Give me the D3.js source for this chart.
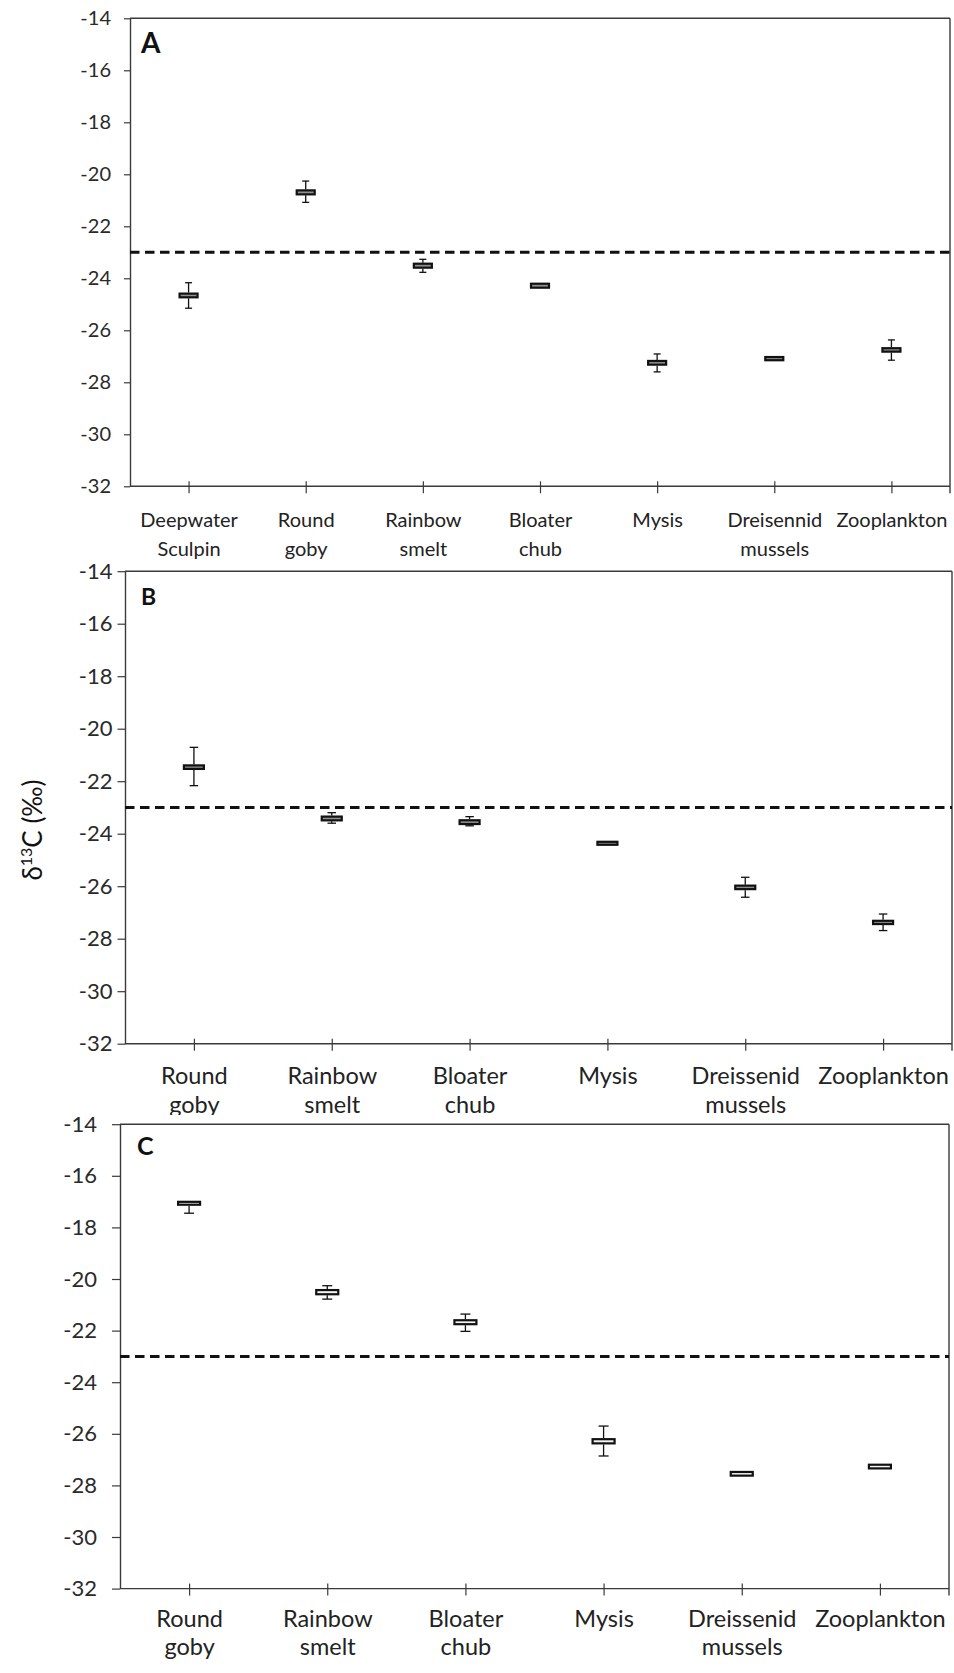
<!DOCTYPE html>
<html>
<head>
<meta charset="utf-8">
<script src="https://cdn.jsdelivr.net/npm/d3@7"></script>
<style>
  html, body { margin: 0; padding: 0; background: #fff; }
  svg { display: block; }
  text { font-family: Lato, Calibri, "Open Sans", sans-serif; }
</style>
</head>
<body>
<svg id="chart" width="954" height="1673"></svg>
<script>
// ---------- DATA ----------
const categoriesA = ["Deepwater\nSculpin", "Round\ngoby", "Rainbow\nsmelt", "Bloater\nchub", "Mysis", "Dreisennid\nmussels", "Zooplankton"];
const whiskerHighA = [-24.17, -20.26, -23.27, -24.17, -26.91, -26.99, -26.37];
const boxTopA      = [-24.55, -20.58, -23.40, -24.17, -27.14, -26.99, -26.65];
const boxBottomA   = [-24.77, -20.81, -23.63, -24.40, -27.36, -27.19, -26.86];
const whiskerLowA  = [-25.15, -21.08, -23.77, -24.40, -27.60, -27.19, -27.15];

const categoriesB = ["Round\ngoby", "Rainbow\nsmelt", "Bloater\nchub", "Mysis", "Dreissenid\nmussels", "Zooplankton"];
const whiskerHighB = [-20.71, -23.20, -23.35, -24.27, -25.66, -27.06];
const boxTopB      = [-21.36, -23.31, -23.45, -24.27, -25.94, -27.28];
const boxBottomB   = [-21.57, -23.53, -23.67, -24.46, -26.15, -27.48];
const whiskerLowB  = [-22.17, -23.60, -23.70, -24.46, -26.42, -27.69];

const categoriesC = ["Round\ngoby", "Rainbow\nsmelt", "Bloater\nchub", "Mysis", "Dreissenid\nmussels", "Zooplankton"];
const whiskerHighC = [-16.97, -20.26, -21.36, -25.70, -27.44, -27.16];
const boxTopC      = [-16.97, -20.39, -21.56, -26.17, -27.44, -27.16];
const boxBottomC   = [-17.16, -20.63, -21.79, -26.41, -27.66, -27.38];
const whiskerLowC  = [-17.45, -20.78, -22.03, -26.86, -27.66, -27.38];

const yTicks = [-14, -16, -18, -20, -22, -24, -26, -28, -30, -32];
const yDomain = [-32, -14];
const referenceLine = -23;
const panelLabels = ["A", "B", "C"];
const yTitle = "C (‰)";

// ---------- LAYOUT ----------
const panels = [
  { label: panelLabels[0], cats: categoriesA, wh: whiskerHighA, bt: boxTopA, bb: boxBottomA, wl: whiskerLowA,
    left: 130, right: 950, top: 18.3, bottom: 486.3, font: 20, tickFont: 20, tickLen: 6, tickPad: 13,
    labelSize: 28, labelX: 141, labelY: 53, boxW: 20, capW: 7, boxFill: "#8f8f8f",
    line1: 40.5, lineGap: 29.3, clipBottom: null },
  { label: panelLabels[1], cats: categoriesB, wh: whiskerHighB, bt: boxTopB, bb: boxBottomB, wl: whiskerLowB,
    left: 125, right: 952, top: 571.2, bottom: 1043.7, font: 23.5, tickFont: 22, tickLen: 7.5, tickPad: 5,
    labelSize: 23, labelX: 141, labelY: 605, boxW: 22, capW: 8.5, boxFill: "#8f8f8f",
    line1: 40.5, lineGap: 29.3, clipBottom: 1115 },
  { label: panelLabels[2], cats: categoriesC, wh: whiskerHighC, bt: boxTopC, bb: boxBottomC, wl: whiskerLowC,
    left: 120, right: 949, top: 1124.2, bottom: 1588.6, font: 23.5, tickFont: 22, tickLen: 8, tickPad: 15,
    labelSize: 25, labelX: 137, labelY: 1155, boxW: 24, capW: 10, boxFill: "#f4f4f4",
    line1: 38, lineGap: 28.5, clipBottom: null }
];

const svg = d3.select("#chart");
const defs = svg.append("defs");
const axisColor = "#3a3a3a";

panels.forEach((p, pi) => {
  let g = svg.append("g");
  if (p.clipBottom) {
    defs.append("clipPath").attr("id", "clip" + pi)
      .append("rect").attr("x", 0).attr("y", 0).attr("width", 954).attr("height", p.clipBottom);
    g.attr("clip-path", "url(#clip" + pi + ")");
  }
  const y = d3.scaleLinear().domain(yDomain).range([p.bottom, p.top]);
  const x = d3.scalePoint().domain(p.cats).range([p.left, p.right]).padding(0.5);

  // frame (top + right)
  g.append("line").attr("x1", p.left).attr("x2", p.right).attr("y1", p.top).attr("y2", p.top)
    .attr("stroke", axisColor).attr("stroke-width", 1.4);
  g.append("line").attr("x1", p.right).attr("x2", p.right).attr("y1", p.top).attr("y2", p.bottom + 7)
    .attr("stroke", axisColor).attr("stroke-width", 1.4);

  // y axis
  const yAxis = d3.axisLeft(y).tickValues(yTicks).tickFormat(d3.format("d"))
    .tickSizeInner(p.tickLen).tickSizeOuter(0).tickPadding(p.tickPad);
  const ya = g.append("g").attr("transform", `translate(${p.left},0)`).call(yAxis);
  ya.select(".domain").attr("stroke", axisColor).attr("stroke-width", 1.4);
  ya.selectAll(".tick line").attr("stroke", axisColor).attr("stroke-width", 1.2);
  ya.selectAll(".tick text").attr("fill", "#2a2a2a").style("font-size", p.tickFont + "px")
    .style("font-family", "Lato, Calibri, sans-serif")
    .text(d => d3.format("d")(d).replace("−", "-"));

  // x axis
  const xAxis = d3.axisBottom(x).tickSizeInner(7).tickSizeOuter(0).tickFormat("");
  const xa = g.append("g").attr("transform", `translate(0,${p.bottom})`).call(xAxis);
  xa.select(".domain").attr("stroke", axisColor).attr("stroke-width", 1.4)
    .attr("d", `M${p.left},0H${p.right}`);
  xa.selectAll(".tick line").attr("y1", -5).attr("y2", 7).attr("stroke", axisColor).attr("stroke-width", 1.2);
  xa.selectAll(".tick text").remove();
  xa.selectAll(".tick").each(function(d) {
    const t = d3.select(this).append("text")
      .attr("text-anchor", "middle").attr("fill", "#222")
      .style("font-size", p.font + "px")
      .style("font-family", "Lato, Calibri, sans-serif");
    d.split("\n").forEach((ln, i) => {
      t.append("tspan").attr("x", 0).attr("y", p.line1 + i * p.lineGap).text(ln);
    });
  });

  // reference dashed line
  g.append("line").attr("x1", p.left).attr("x2", p.right)
    .attr("y1", y(referenceLine)).attr("y2", y(referenceLine))
    .attr("stroke", "#111").attr("stroke-width", 3).attr("stroke-dasharray", "9.5,5.5");

  // boxes
  const data = p.cats.map((c, i) => ({ c, wh: p.wh[i], bt: p.bt[i], bb: p.bb[i], wl: p.wl[i] }));
  const bx = g.append("g").selectAll("g").data(data).join("g");
  bx.each(function(d) {
    const s = d3.select(this);
    const cx = x(d.c);
    if (d.wh > d.bt) {
      s.append("line").attr("x1", cx).attr("x2", cx).attr("y1", y(d.wh)).attr("y2", y(d.bt))
        .attr("stroke", "#111").attr("stroke-width", 1.3);
      s.append("line").attr("x1", cx - p.capW / 2).attr("x2", cx + p.capW / 2).attr("y1", y(d.wh)).attr("y2", y(d.wh))
        .attr("stroke", "#111").attr("stroke-width", 1.3);
    }
    if (d.wl < d.bb) {
      s.append("line").attr("x1", cx).attr("x2", cx).attr("y1", y(d.bb)).attr("y2", y(d.wl))
        .attr("stroke", "#111").attr("stroke-width", 1.3);
      s.append("line").attr("x1", cx - p.capW / 2).attr("x2", cx + p.capW / 2).attr("y1", y(d.wl)).attr("y2", y(d.wl))
        .attr("stroke", "#111").attr("stroke-width", 1.3);
    }
    s.append("rect").attr("x", cx - p.boxW / 2 + 1).attr("width", p.boxW - 2)
      .attr("y", y(d.bt) + 1).attr("height", Math.max(1.5, y(d.bb) - y(d.bt) - 2))
      .attr("fill", p.boxFill).attr("stroke", "#111").attr("stroke-width", 2.2);
  });

  // panel label
  g.append("text").attr("x", p.labelX).attr("y", p.labelY)
    .style("font-size", p.labelSize + "px").style("font-weight", "bold").attr("fill", "#111")
    .text(p.label);
});

// y-axis title (shared, rotated)
const yt = svg.append("text")
  .attr("transform", "translate(42,830) rotate(-90)")
  .attr("text-anchor", "middle").attr("fill", "#111")
  .style("font-size", "26px");
yt.append("tspan").text("δ");
yt.append("tspan").attr("dy", -10).style("font-size", "16px").text("13");
yt.append("tspan").attr("dy", 10).text(yTitle);
</script>
</body>
</html>
